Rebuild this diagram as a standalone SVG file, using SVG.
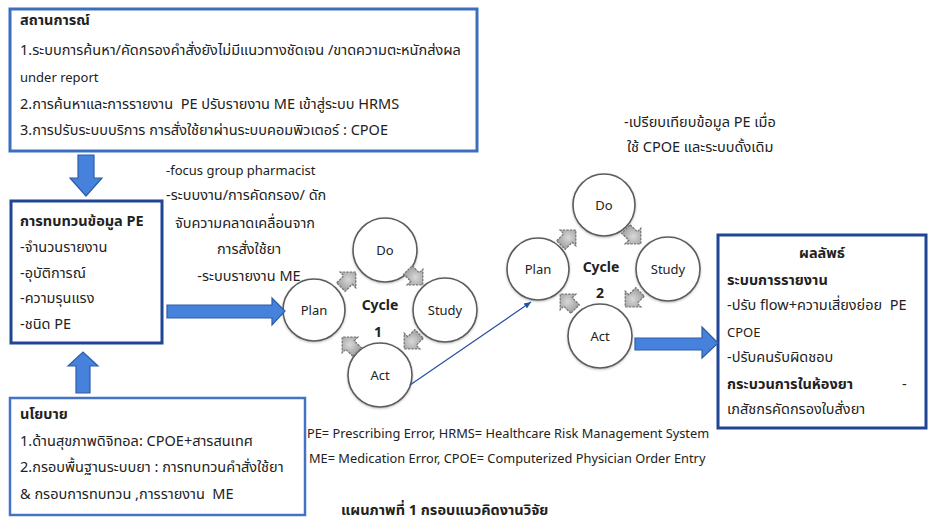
<svg xmlns="http://www.w3.org/2000/svg" width="928" height="520" viewBox="0 0 928 520">
  <style>
    text { font-family: "Noto Sans", "Noto Sans Thai", "Liberation Sans", sans-serif; font-size: 14.5px; fill: #222; }
    .l { font-size: 13px; }
    .fn { font-size: 12.8px; }
    .b { font-weight: bold; }
    .c { text-anchor: middle; }
    .box { fill: #fff; }
    .circ { fill: #fff; stroke: #5c5c5c; stroke-width: 1.6; }
    .big { fill: #4682dc; stroke: #2e5ca8; stroke-width: 1.2; }
    .cyc { font-size: 14px; font-weight: bold; }
  </style>
  <defs>
    <radialGradient id="gg" cx="0.5" cy="0.5" r="0.6">
      <stop offset="0" stop-color="#d8d8d8"/>
      <stop offset="1" stop-color="#9a9a9a"/>
    </radialGradient>
    <g id="ga">
      <polygon points="-10,-6 0,-6 0,-11 11,0 0,11 0,6 -10,6" fill="url(#gg)" stroke="#777" stroke-width="1.3" stroke-dasharray="2.5 1"/>
    </g>
    <marker id="ah" markerWidth="8" markerHeight="8" refX="7" refY="4" orient="auto" markerUnits="userSpaceOnUse">
      <path d="M0,1 L7,4 L0,7 z" fill="#2850a0"/>
    </marker>
    <filter id="sh" x="-20%" y="-20%" width="140%" height="140%">
      <feDropShadow dx="0" dy="1" stdDeviation="1" flood-color="#000" flood-opacity="0.25"/>
    </filter>
  </defs>

  <!-- situation box -->
  <g id="situation">
    <rect class="box" x="10" y="9" width="467" height="142" stroke="#3a6fc0" stroke-width="3"/>
    <text class="b" x="20" y="25">สถานการณ์</text>
    <text x="20" y="55">1.ระบบการค้นหา/คัดกรองคำสั่งยังไม่มีแนวทางชัดเจน /ขาดความตะหนักส่งผล</text>
    <text class="l" x="20" y="82">under report</text>
    <text x="20" y="109" xml:space="preserve">2.การค้นหาและการรายงาน  PE ปรับรายงาน ME เข้าสู่ระบบ HRMS</text>
    <text x="20" y="135">3.การปรับระบบบริการ การสั่งใช้ยาผ่านระบบคอมพิวเตอร์ : CPOE</text>
  </g>

  <!-- PE data review box -->
  <g id="review">
    <rect class="box" x="11" y="201" width="151" height="142" stroke="#1f4594" stroke-width="3"/>
    <text class="b" x="20" y="226">การทบทวนข้อมูล PE</text>
    <text x="20" y="252">-จำนวนรายงาน</text>
    <text x="20" y="278">-อุบัติการณ์</text>
    <text x="20" y="303">-ความรุนแรง</text>
    <text x="20" y="329">-ชนิด PE</text>
  </g>

  <!-- policy box -->
  <g id="policy">
    <rect class="box" x="10" y="398" width="295" height="117" stroke="#4472c4" stroke-width="2.5"/>
    <text class="b" x="20" y="419">นโยบาย</text>
    <text x="20" y="446">1.ด้านสุขภาพดิจิทอล: CPOE+สารสนเทศ</text>
    <text x="20" y="472">2.กรอบพื้นฐานระบบยา : การทบทวนคำสั่งใช้ยา</text>
    <text x="20" y="499" xml:space="preserve">&amp; กรอบการทบทวน ,การรายงาน  ME</text>
  </g>

  <!-- method notes -->
  <g id="methods">
    <text class="l" x="166" y="175">-focus group pharmacist</text>
    <text x="166" y="200">-ระบบงาน/การคัดกรอง/ ดัก</text>
    <text class="c" x="245" y="228">จับความคลาดเคลื่อนจาก</text>
    <text class="c" x="249" y="254">การสั่งใช้ยา</text>
    <text class="c" x="249" y="281">-ระบบรายงาน ME</text>
  </g>

  <!-- comparison note -->
  <g id="compare">
    <text x="624" y="127">-เปรียบเทียบข้อมูล PE เมื่อ</text>
    <text x="627" y="152">ใช้ CPOE และระบบดั้งเดิม</text>
  </g>

  <!-- PDSA cycle 1 -->
  <g id="cycle1">
    <g filter="url(#sh)">
      <circle class="circ" cx="314" cy="310" r="31"/>
      <circle class="circ" cx="385" cy="250" r="32"/>
      <circle class="circ" cx="445" cy="310" r="32"/>
      <circle class="circ" cx="380" cy="375" r="32"/>
    </g>
    <text class="c l" x="314" y="315">Plan</text>
    <text class="c l" x="385" y="255">Do</text>
    <text class="c l" x="445" y="315">Study</text>
    <text class="c l" x="380" y="380">Act</text>
    <text class="c cyc" x="380" y="310">Cycle</text>
    <text class="c cyc" x="378" y="337">1</text>
    <use href="#ga" transform="translate(348,280) rotate(-45)"/>
    <use href="#ga" transform="translate(415,277) rotate(45)"/>
    <use href="#ga" transform="translate(412,341) rotate(135)"/>
    <use href="#ga" transform="translate(350,345) rotate(-135)"/>
  </g>

  <!-- PDSA cycle 2 -->
  <g id="cycle2">
    <g filter="url(#sh)">
      <circle class="circ" cx="538" cy="269" r="31"/>
      <circle class="circ" cx="604" cy="205" r="31"/>
      <circle class="circ" cx="668" cy="269" r="32"/>
      <circle class="circ" cx="600" cy="336" r="32"/>
    </g>
    <text class="c l" x="538" y="274">Plan</text>
    <text class="c l" x="604" y="210">Do</text>
    <text class="c l" x="668" y="274">Study</text>
    <text class="c l" x="600" y="341">Act</text>
    <text class="c cyc" x="601" y="272">Cycle</text>
    <text class="c cyc" x="600" y="298">2</text>
    <use href="#ga" transform="translate(568,238) rotate(-45)"/>
    <use href="#ga" transform="translate(633,236) rotate(45)"/>
    <use href="#ga" transform="translate(633,299) rotate(135)"/>
    <use href="#ga" transform="translate(568,302) rotate(-135)"/>
  </g>

  <!-- outcome box -->
  <g id="outcome">
    <rect class="box" x="718" y="235" width="208" height="193" stroke="#1f4594" stroke-width="3"/>
    <text class="c b" x="822" y="258">ผลลัพธ์</text>
    <text class="b" x="727" y="285">ระบบการรายงาน</text>
    <text x="727" y="310" xml:space="preserve">-ปรับ flow+ความเสี่ยงย่อย  PE</text>
    <text class="l" x="727" y="337">CPOE</text>
    <text x="727" y="362">-ปรับคนรับผิดชอบ</text>
    <text class="b" x="727" y="389">กระบวนการในห้องยา</text>
    <text x="902" y="389">-</text>
    <text x="727" y="414">เภสัชกรคัดกรองใบสั่งยา</text>
  </g>

  <!-- connectors -->
  <g id="connectors">
    <polygon class="big" points="78,155 94,155 94,178 102,178 86,196 70,178 78,178"/>
    <polygon class="big" points="76,393 90,393 90,366 98,366 83,352 68,366 76,366"/>
    <polygon class="big" points="167,305 272,305 272,298 285,311 272,325 272,318 167,318"/>
    <polygon class="big" points="635,338 702,338 702,327 718,343 702,358 702,350 635,350"/>
    <line x1="410" y1="385" x2="531" y2="302" stroke="#2850a0" stroke-width="1.2" marker-end="url(#ah)"/>
  </g>

  <!-- abbreviations and caption -->
  <g id="notes">
    <text class="fn" x="307" y="438">PE= Prescribing Error, HRMS= Healthcare Risk Management System</text>
    <text class="fn" x="309" y="463">ME= Medication Error, CPOE= Computerized Physician Order Entry</text>
    <text class="b" x="341" y="515">แผนภาพที่ 1 กรอบแนวคิดงานวิจัย</text>
  </g>
</svg>
